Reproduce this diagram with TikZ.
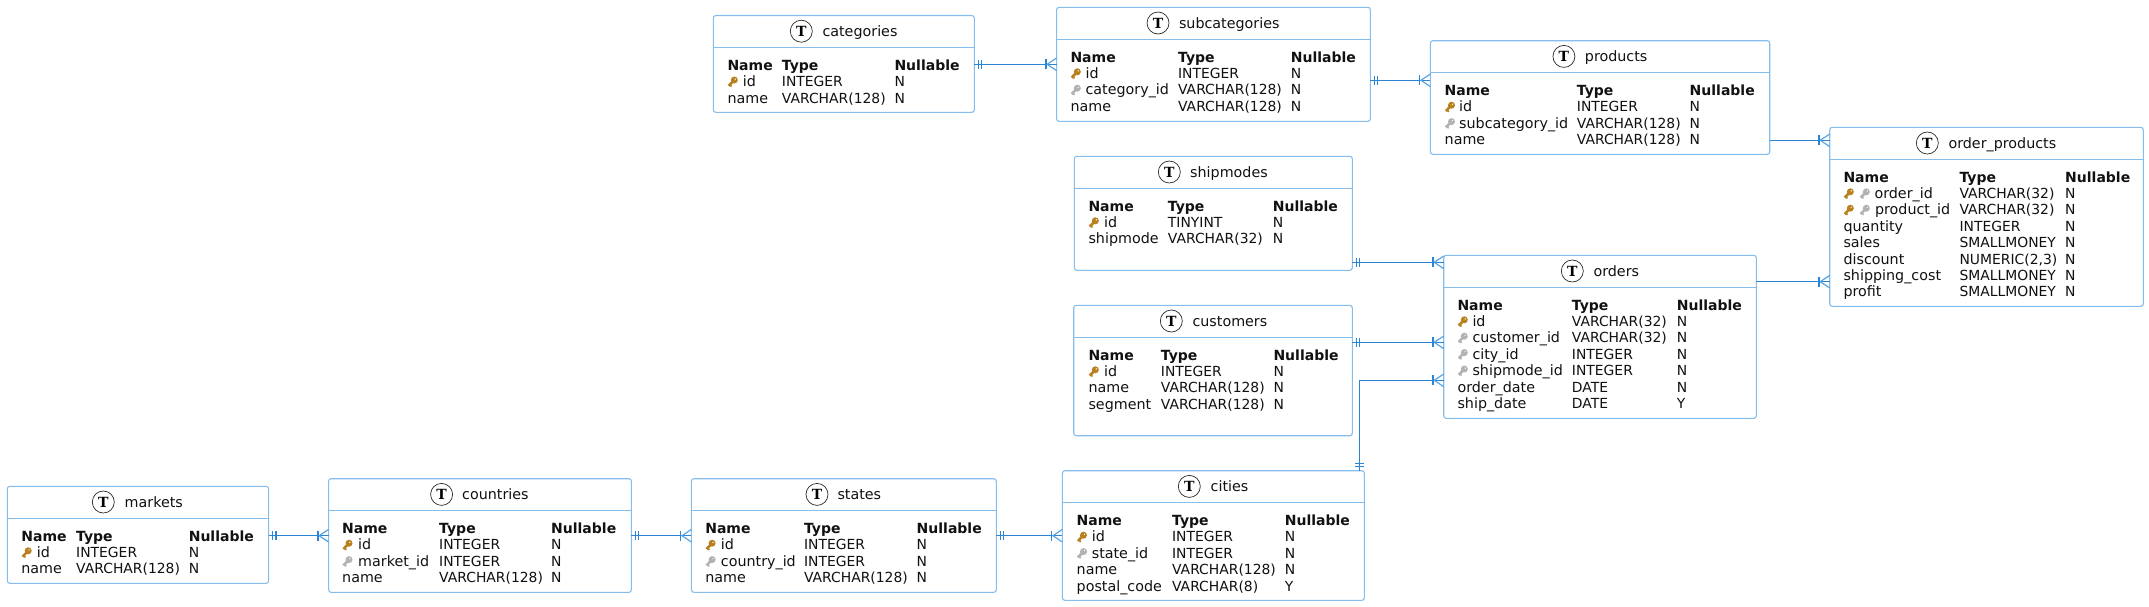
\documentclass[tikz,border=0pt]{standalone}
\usepackage{fontspec}
\setmainfont{DejaVu Sans}
\newfontfamily\tfont{DejaVu Serif}[BoldFont={* Bold}]
\definecolor{boxc}{HTML}{85BDEC}
\definecolor{linec}{HTML}{2A85D5}
\definecolor{forkc}{HTML}{58A5E6}
\definecolor{gold}{HTML}{B8801E}
\definecolor{fkgray}{HTML}{B2B2B2}
\definecolor{ink}{HTML}{111111}
\tikzset{
  tbox/.style={draw=boxc,line width=1.1pt,rounded corners=2.5pt,fill=white,anchor=north west,inner sep=0pt,outer sep=0pt},
  hdrline/.style={draw=boxc,line width=1.1pt},
  tcircle/.style={circle,draw=ink!90,line width=0.7pt,fill=white,minimum size=22pt,inner sep=0pt,font=\tfont\bfseries\fontsize{14}{14}\selectfont},
  ttitle/.style={anchor=base west,inner sep=0pt,text=ink,font=\fontsize{14.3}{16}\selectfont},
  ncell/.style={anchor=base west,inner sep=0pt,text=ink,font=\fontsize{14.3}{16}\selectfont},
  cell/.style={anchor=base west,inner sep=0pt,text=ink,font=\fontsize{13.9}{16}\selectfont},
  hcell/.style={anchor=base west,inner sep=0pt,text=ink,font=\bfseries\fontsize{14}{16}\selectfont},
  rel/.style={draw=linec,line width=1.3pt},
  crowfoot/.pic={
    \draw[forkc,line width=1.2pt] (0,-6.3) -- (-9.5,0) -- (0,6.3);
    \draw[linec,line width=1.2pt] (-10.7,-5) -- (-10.7,5);
  },
  oneone/.pic={
    \draw[linec,line width=1.2pt] (4,-4.7) -- (4,4.7) (7.3,-4.7) -- (7.3,4.7);
  },
  keyicon/.pic={
    \fill (7,-6.6) circle (3.5);
    \draw[line width=2.6pt] (7,-6.6) -- (1.4,-0.8);
    \draw[line width=1.6pt] (2.6,-1.6) -- (4.2,0);
    \fill[white] (7.9,-7.5) circle (0.7);
  },
}
\newcommand\tbl[8]{%
  \def\cur{#1}\def\curt{#4}%
  \node[tbox,minimum width={(#3-#2)*1pt},minimum height={(#5-#4)*1pt}] (#1) at (#2,#4) {};
  \coordinate (#1-h) at (#2,{#4+32});
  \draw[hdrline] (#1.west |- #1-h) -- (#1.east |- #1-h);
  \node[tcircle] (#1-c) at (#6,{#4+15.7}) {T};
  \node[ttitle] (#1-t) at (#7,{#4+20.8}) {#8};
}
\newcommand\cols[3]{\def\ca{#1}\def\cb{#2}\def\cc{#3}%
  \node[hcell] (\cur-h-a) at (\ca,{\curt+54.7}) {Name};
  \node[hcell] (\cur-h-b) at (\cb,{\curt+54.7}) {Type};
  \node[hcell] (\cur-h-c) at (\cc,{\curt+54.7}) {Nullable};
}
\newcommand\rw[5]{%
  \node[ncell] (\cur-#1-a) at (#2,{\curt+54.7+16.4*#1}) {#3};
  \node[cell] (\cur-#1-b) at (\cb,{\curt+54.7+16.4*#1}) {#4};
  \node[cell] (\cur-#1-c) at (\cc,{\curt+54.7+16.4*#1}) {#5};
}
\newcommand\pk[2]{\path[gold,draw=gold,fill=gold] (#2,{\curt+54.7+16.4*#1}) pic {keyicon};}
\newcommand\fk[2]{\path[fkgray,draw=fkgray,fill=fkgray] (#2,{\curt+54.7+16.4*#1}) pic {keyicon};}
\begin{document}
\begin{tikzpicture}[x=1pt,y=-1pt]
\useasboundingbox (0,0) rectangle (2149,606);
\fill[white] (0,0) rectangle (2149,606);

% connector row levels
\coordinate (r1) at (0,64.3);
\coordinate (r2) at (0,80.3);
\coordinate (r3) at (0,140.3);
\coordinate (r4) at (0,281.7);
\coordinate (r5) at (0,262.3);
\coordinate (r6) at (0,342.3);
\coordinate (r7) at (0,380.3);
\coordinate (r8) at (0,535.7);
\coordinate (v1) at (1359.3,0);

\tbl{categories}{713.3}{974.3}{15.5}{112.3}{801.3}{822.3}{categories}
\cols{727.3}{781.7}{894.3}
\pk{1}{727.3}
\rw{1}{742.7}{id}{INTEGER}{N}
\rw{2}{\ca}{name}{VARCHAR(128)}{N}

\tbl{subcategories}{1056.6}{1370.4}{7.3}{121.3}{1158}{1178.8}{subcategories}
\cols{1070.3}{1177.9}{1290.7}
\pk{1}{1070.3}
\rw{1}{1085.4}{id}{INTEGER}{N}
\fk{2}{1070.3}
\rw{2}{1085.4}{category\_id}{VARCHAR(128)}{N}
\rw{3}{\ca}{name}{VARCHAR(128)}{N}

\tbl{products}{1430.4}{1769.7}{40.7}{154.3}{1563.9}{1584.7}{products}
\cols{1444.5}{1576.7}{1689.5}
\pk{1}{1444.5}
\rw{1}{1459}{id}{INTEGER}{N}
\fk{2}{1444.5}
\rw{2}{1459}{subcategory\_id}{VARCHAR(128)}{N}
\rw{3}{\ca}{name}{VARCHAR(128)}{N}

\tbl{shipmodes}{1074.3}{1352.3}{156.3}{270.3}{1169.3}{1190}{shipmodes}
\cols{1088.3}{1167.7}{1272.7}
\pk{1}{1088.3}
\rw{1}{1104}{id}{TINYINT}{N}
\rw{2}{\ca}{shipmode}{VARCHAR(32)}{N}

\tbl{customers}{1073.7}{1352.3}{305.3}{435.7}{1171.3}{1192.3}{customers}
\cols{1088.3}{1160.7}{1273.3}
\pk{1}{1088.3}
\rw{1}{1104}{id}{INTEGER}{N}
\rw{2}{\ca}{name}{VARCHAR(128)}{N}
\rw{3}{\ca}{segment}{VARCHAR(128)}{N}

\tbl{orders}{1443.7}{1756.3}{255.3}{418.3}{1572.3}{1593.3}{orders}
\cols{1457.3}{1571.7}{1676.7}
\pk{1}{1457.3}
\rw{1}{1472.3}{id}{VARCHAR(32)}{N}
\fk{2}{1457.3}
\rw{2}{1472.3}{customer\_id}{VARCHAR(32)}{N}
\fk{3}{1457.3}
\rw{3}{1472.3}{city\_id}{INTEGER}{N}
\fk{4}{1457.3}
\rw{4}{1472.3}{shipmode\_id}{INTEGER}{N}
\rw{5}{\ca}{order\_date}{DATE}{N}
\rw{6}{\ca}{ship\_date}{DATE}{Y}

\tbl{orderproducts}{1829.7}{2143.3}{127.3}{306.3}{1927.3}{1948.3}{order\_products}
\cols{1843.3}{1959.3}{2065}
\pk{1}{1843.3}\fk{1}{1859.3}
\rw{1}{1874.3}{order\_id}{VARCHAR(32)}{N}
\pk{2}{1843.3}\fk{2}{1859.3}
\rw{2}{1874.8}{product\_id}{VARCHAR(32)}{N}
\rw{3}{\ca}{quantity}{INTEGER}{N}
\rw{4}{\ca}{sales}{SMALLMONEY}{N}
\rw{5}{\ca}{discount}{NUMERIC(2,3)}{N}
\rw{6}{\ca}{shipping\_cost}{SMALLMONEY}{N}
\rw{7}{\ca}{profit}{SMALLMONEY}{N}

\tbl{markets}{7.3}{268.6}{486.3}{583.3}{103.3}{124.5}{markets}
\cols{21.2}{76}{188.6}
\pk{1}{21.2}
\rw{1}{36.7}{id}{INTEGER}{N}
\rw{2}{\ca}{name}{VARCHAR(128)}{N}

\tbl{countries}{328.6}{631.4}{478.7}{592.3}{441.6}{462}{countries}
\cols{342}{439}{551}
\pk{1}{342}
\rw{1}{358}{id}{INTEGER}{N}
\fk{2}{342}
\rw{2}{358}{market\_id}{INTEGER}{N}
\rw{3}{\ca}{name}{VARCHAR(128)}{N}

\tbl{states}{691.4}{996.3}{478.7}{592.3}{817}{837.3}{states}
\cols{705.1}{803.8}{916.5}
\pk{1}{705.1}
\rw{1}{720.7}{id}{INTEGER}{N}
\fk{2}{705.1}
\rw{2}{720.7}{country\_id}{INTEGER}{N}
\rw{3}{\ca}{name}{VARCHAR(128)}{N}

\tbl{cities}{1062.4}{1364.4}{470.7}{600.3}{1189.3}{1210.5}{cities}
\cols{1076.5}{1171.9}{1284.6}
\pk{1}{1076.5}
\rw{1}{1091.6}{id}{INTEGER}{N}
\fk{2}{1076.5}
\rw{2}{1091.6}{state\_id}{INTEGER}{N}
\rw{3}{\ca}{name}{VARCHAR(128)}{N}
\rw{4}{\ca}{postal\_code}{VARCHAR(8)}{Y}

% connectors
\draw[rel] (categories.east |- r1) -- (subcategories.west |- r1);
\draw[rel] (subcategories.east |- r2) -- (products.west |- r2);
\draw[rel] (products.east |- r3) -- (orderproducts.west |- r3);
\draw[rel] (orders.east |- r4) -- (orderproducts.west |- r4);
\draw[rel] (shipmodes.east |- r5) -- (orders.west |- r5);
\draw[rel] (customers.east |- r6) -- (orders.west |- r6);
\draw[rel] (v1 |- cities.north) -- (v1 |- r7) -- (orders.west |- r7);
\draw[rel] (markets.east |- r8) -- (countries.west |- r8);
\draw[rel] (countries.east |- r8) -- (states.west |- r8);
\draw[rel] (states.east |- r8) -- (cities.west |- r8);

\path (categories.east |- r1) pic {oneone};
\path (subcategories.east |- r2) pic {oneone};
\path (shipmodes.east |- r5) pic {oneone};
\path (customers.east |- r6) pic {oneone};
\path (markets.east |- r8) pic {oneone};
\path (countries.east |- r8) pic {oneone};
\path (states.east |- r8) pic {oneone};
\path (v1 |- cities.north) pic[rotate=90] {oneone};

\path (subcategories.west |- r1) pic {crowfoot};
\path (products.west |- r2) pic {crowfoot};
\path (orderproducts.west |- r3) pic {crowfoot};
\path (orderproducts.west |- r4) pic {crowfoot};
\path (orders.west |- r5) pic {crowfoot};
\path (orders.west |- r6) pic {crowfoot};
\path (orders.west |- r7) pic {crowfoot};
\path (countries.west |- r8) pic {crowfoot};
\path (states.west |- r8) pic {crowfoot};
\path (cities.west |- r8) pic {crowfoot};
\end{tikzpicture}
\end{document}
